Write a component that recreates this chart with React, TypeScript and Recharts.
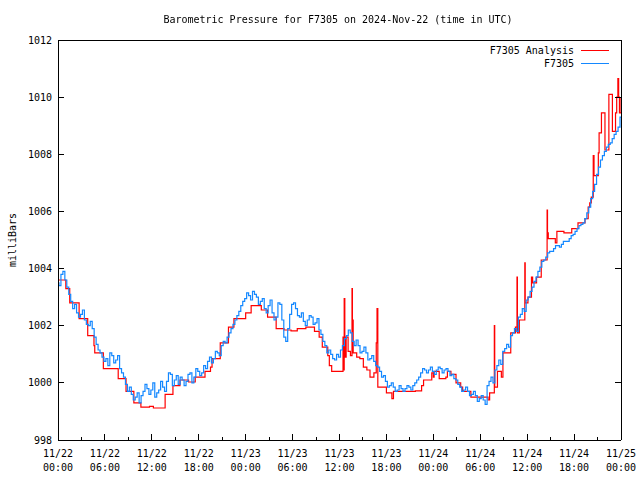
import { LineChart, Line, XAxis, YAxis } from 'recharts';

const FONT = '"DejaVu Sans Mono", "Liberation Mono", monospace';

// [hours after 2024-11-22 00:00 UTC, mb] - analysis changes in steps
const analysisReadings: [number, number][] = [
    [0, 1003.6], [1.0, 1003.3], [1.5, 1002.8], [2.7, 1002.25], [3.8, 1001.65],
    [4.6, 1001.3], [4.7, 1001.05], [5.8, 1000.5], [7.7, 1000.15], [8.7, 999.7],
    [9.7, 999.3], [10.6, 999.15], [11.7, 999.18], [12.2, 999.12], [13.7, 999.6],
    [14.7, 999.9], [15.6, 1000.1], [16.7, 1000.03], [17.55, 1000.2], [18.8, 1000.4],
    [19.5, 1000.55], [19.7, 1000.85], [20.75, 1001.4], [21.8, 1001.95], [22.5, 1002.25],
    [24.0, 1002.45], [24.7, 1002.7], [26.0, 1002.55], [26.8, 1002.3], [27.9, 1001.9],
    [28.9, 1001.85], [29.8, 1001.82], [30.6, 1001.9], [31.7, 1001.95], [32.8, 1001.8],
    [33.4, 1001.6], [33.8, 1001.25], [34.5, 1000.95], [34.7, 1000.6], [35.0, 1000.4],
    [36.45, 1001.6], [36.5, 1000.45], [36.6, 1002.95], [36.68, 1001.6], [36.75, 1000.9],
    [36.85, 1001.6], [37.1, 1001.1], [37.4, 1000.95], [37.6, 1003.3], [37.65, 1002.2],
    [37.75, 1001.05], [38.2, 1000.9], [38.6, 1000.85], [39.05, 1000.55], [39.5, 1000.45],
    [39.9, 1000.2], [40.4, 1000.35], [40.7, 1001.4], [40.8, 1002.6], [40.9, 999.85],
    [42.0, 999.65], [42.7, 999.45], [42.9, 999.7], [45.7, 999.72], [46.5, 999.9],
    [46.75, 1000.1], [47.8, 1000.35], [48.0, 1000.2], [48.1, 1000.4], [48.75, 1000.15],
    [49.6, 1000.2], [49.8, 1000.4], [50.25, 1000.3], [50.9, 1000.0], [51.5, 999.85],
    [51.75, 999.7], [52.8, 999.5], [55.0, 999.4], [55.2, 999.65], [55.8, 1002.0],
    [55.85, 999.85], [56.2, 1000.4], [56.7, 1000.2], [56.9, 1001.05], [57.9, 1001.75],
    [58.5, 1001.95], [58.7, 1003.7], [58.75, 1001.75], [59.0, 1002.2], [59.7, 1004.2],
    [59.75, 1002.8], [60.1, 1003.0], [60.55, 1003.7], [60.7, 1003.5], [61.2, 1003.7],
    [61.8, 1004.3], [62.55, 1006.05], [62.6, 1005.25], [62.7, 1005.05], [63.6, 1004.9],
    [63.8, 1005.3], [64.7, 1005.25], [65.7, 1005.4], [66.5, 1005.6], [67.4, 1005.75],
    [67.8, 1006.15], [68.0, 1006.3], [68.2, 1006.5], [68.45, 1007.95], [68.55, 1007.25],
    [69.1, 1008.05], [69.2, 1008.75], [69.5, 1009.45], [69.95, 1008.15], [70.45, 1010.1],
    [70.9, 1008.8], [71.3, 1009.45], [71.45, 1010.0], [71.6, 1010.65], [71.7, 1010.0],
    [71.8, 1009.45], [72.0, 1010.0],
];

// station readings on the half hour, from 11/22 00:00
const stationStepHours = 0.5;
const stationValues = [
    1003.5, 1003.8, 1003.6, 1003.1, 1002.6, 1002.45, 1002.4, 1002.2, 1002.0, 1001.9,
    1001.35, 1001.05, 1000.75, 1000.6, 1000.95, 1000.8, 1000.5, 1000.2, 999.7, 999.6,
    999.5, 999.3, 999.7, 999.8, 999.75, 999.5, 999.75, 999.85, 1000.05, 1000.3,
    1000.1, 999.95, 1000.1, 1000.05, 1000.35, 1000.2, 1000.4, 1000.35, 1000.5, 1000.9,
    1000.85, 1001.05, 1001.3, 1001.4, 1001.75, 1002.05, 1002.35, 1002.7, 1002.95, 1003.05,
    1003.2, 1003.0, 1002.85, 1002.6, 1002.7, 1002.45, 1002.3, 1002.75, 1001.6, 1001.9,
    1002.75, 1002.6, 1002.3, 1002.15, 1002.2, 1002.3, 1002.1, 1001.85, 1001.45, 1001.05,
    1001.0, 1000.8, 1000.9, 1001.3, 1001.65, 1001.75, 1001.3, 1001.3, 1001.1, 1001.05,
    1000.85, 1000.75, 1000.55, 1000.2, 1000.05, 999.9, 999.85, 999.75, 999.8, 999.8,
    999.85, 999.9, 1000.1, 1000.35, 1000.45, 1000.45, 1000.4, 1000.45, 1000.5, 1000.45,
    1000.4, 1000.3, 1000.1, 999.85, 999.75, 999.7, 999.6, 999.55, 999.45, 999.4,
    999.9, 1000.2, 1000.45, 1000.8, 1001.1, 1001.35, 1001.65, 1001.9, 1002.3, 1002.6,
    1002.9, 1003.2, 1003.55, 1003.9, 1004.25, 1004.4, 1004.6, 1004.7, 1004.8, 1004.85,
    1004.95, 1005.05, 1005.2, 1005.4, 1005.55, 1005.75, 1006.15, 1006.7, 1007.3, 1007.8,
    1008.1, 1008.35, 1008.55, 1008.8, 1009.3,
];

// station readings a quarter hour after each of the above
const stationQuarterValues = [
    1003.4, 1003.9, 1003.35, 1002.85, 1002.75, 1002.3, 1002.55, 1002.05, 1002.15, 1001.6,
    1001.15, 1000.9, 1000.85, 1001.05, 1000.7, 1000.95, 1000.35, 999.95, 999.85, 999.4,
    999.65, 999.55, 999.95, 999.6, 1000.0, 999.65, 1000.05, 999.7, 1000.35, 999.9,
    1000.25, 1000.2, 999.9, 1000.3, 1000.0, 1000.5, 1000.25, 1000.6, 1000.75, 1000.7,
    1001.1, 1000.95, 1001.45, 1001.6, 1001.9, 1002.2, 1002.5, 1002.85, 1003.15, 1002.9,
    1003.1, 1002.75, 1002.95, 1002.45, 1002.9, 1002.2, 1002.8, 1002.2, 1001.45, 1002.4,
    1002.8, 1002.35, 1002.45, 1002.0, 1002.35, 1002.05, 1002.25, 1001.7, 1001.3, 1001.15,
    1000.85, 1001.0, 1001.15, 1001.55, 1001.85, 1001.45, 1001.5, 1001.05, 1001.25, 1000.8,
    1000.95, 1000.6, 1000.4, 1000.25, 999.85, 1000.0, 999.7, 999.9, 999.7, 999.9,
    999.75, 1000.0, 1000.2, 1000.5, 1000.35, 1000.55, 1000.3, 1000.55, 1000.35, 1000.5,
    1000.25, 1000.15, 999.95, 999.7, 999.85, 999.55, 999.7, 999.35, 999.55, 999.25,
    1000.05, 1000.0, 1000.6, 1000.65, 1001.2, 1001.25, 1001.75, 1001.8, 1002.4, 1002.5,
    1003.0, 1003.35, 1003.7, 1004.05, 1004.3, 1004.55, 1004.6, 1004.8, 1004.75, 1004.95,
    1004.95, 1005.15, 1005.3, 1005.5, 1005.6, 1005.95, 1006.45, 1006.95, 1007.55, 1007.95,
    1008.25, 1008.4, 1008.7, 1008.95,
];

const pressureTicks = [998, 1000, 1002, 1004, 1006, 1008, 1010, 1012];
const timeTicks = [0, 3, 6, 9, 12, 15, 18, 21, 24, 27, 30, 33, 36, 39, 42, 45, 48, 51, 54, 57, 60, 63, 66, 69, 72];
const startDay = 22;

const analysisData = analysisReadings.map(([h, v]) => ({ h, v }));
const stationData = stationValues.flatMap((v, i) => {
    const h = i * stationStepHours;
    const rows = [{ h, v }];
    if (i < stationQuarterValues.length) rows.push({ h: h + stationStepHours / 2, v: stationQuarterValues[i] });
    return rows;
});

const PLOT_TOP = 40;
const PLOT_BOTTOM = 440;
const PLOT_LEFT = 58;
const PLOT_RIGHT = 621;

const pad = (n: number) => String(n).padStart(2, '0');

function BottomTick({ x, payload }: any) {
    const h = payload.value as number;
    const major = h % 6 === 0;
    const len = major ? 6 : 3;
    return (
        <g>
            <line x1={x} y1={PLOT_BOTTOM} x2={x} y2={PLOT_BOTTOM - len} stroke="#000" shapeRendering="crispEdges" />
            {major && (
                <text x={x} textAnchor="middle" fontFamily={FONT} fontSize={10} fill="#000">
                    <tspan x={x} y={457}>{`11/${startDay + Math.floor(h / 24)}`}</tspan>
                    <tspan x={x} y={471}>{`${pad(h % 24)}:00`}</tspan>
                </text>
            )}
        </g>
    );
}

function TopTick({ x, payload }: any) {
    const len = payload.value % 6 === 0 ? 6 : 3;
    return <line x1={x} y1={PLOT_TOP} x2={x} y2={PLOT_TOP + len} stroke="#000" shapeRendering="crispEdges" />;
}

function LeftTick({ y, payload }: any) {
    return (
        <g>
            <line x1={PLOT_LEFT} y1={y} x2={PLOT_LEFT + 6} y2={y} stroke="#000" shapeRendering="crispEdges" />
            <text x={52} y={y + 3.5} textAnchor="end" fontFamily={FONT} fontSize={10} fill="#000">
                {payload.value}
            </text>
        </g>
    );
}

function RightTick({ y }: any) {
    return <line x1={PLOT_RIGHT} y1={y} x2={PLOT_RIGHT - 6} y2={y} stroke="#000" shapeRendering="crispEdges" />;
}

const legendRow = (label: string, color: string, top: number) => (
    <div style={{ position: 'absolute', top, right: 31, display: 'flex', alignItems: 'center', height: 12 }}>
        <span style={{ marginRight: 7 }}>{label}</span>
        <svg width={28} height={4}>
            <line x1={0} y1={2} x2={28} y2={2} stroke={color} strokeWidth={1} shapeRendering="crispEdges" />
        </svg>
    </div>
);

export default function App() {
    return (
        <div
            style={{
                position: 'fixed',
                left: 0,
                top: 0,
                width: 640,
                height: 480,
                background: '#fff',
                fontFamily: FONT,
                fontSize: 10,
                color: '#000',
            }}
        >
            <LineChart width={640} height={480} margin={{ top: 39, right: 18, bottom: 0, left: 0 }}>
                <XAxis
                    xAxisId="bottom"
                    dataKey="h"
                    type="number"
                    domain={[0, 72]}
                    ticks={timeTicks}
                    interval={0}
                    height={40}
                    tickLine={false}
                    axisLine={{ stroke: '#000', shapeRendering: 'crispEdges' }}
                    tick={<BottomTick />}
                />
                <XAxis
                    xAxisId="top"
                    orientation="top"
                    dataKey="h"
                    type="number"
                    domain={[0, 72]}
                    ticks={timeTicks}
                    interval={0}
                    height={1}
                    tickLine={false}
                    axisLine={{ stroke: '#000', shapeRendering: 'crispEdges' }}
                    tick={<TopTick />}
                />
                <YAxis
                    yAxisId="left"
                    domain={[998, 1012]}
                    ticks={pressureTicks}
                    interval={0}
                    width={58}
                    tickLine={false}
                    axisLine={{ stroke: '#000', shapeRendering: 'crispEdges' }}
                    tick={<LeftTick />}
                    allowDataOverflow
                />
                <YAxis
                    yAxisId="right"
                    orientation="right"
                    domain={[998, 1012]}
                    ticks={pressureTicks}
                    interval={0}
                    width={1}
                    tickLine={false}
                    axisLine={{ stroke: '#000', shapeRendering: 'crispEdges' }}
                    tick={<RightTick />}
                    allowDataOverflow
                />
                <Line
                    data={analysisData}
                    xAxisId="bottom"
                    yAxisId="left"
                    dataKey="v"
                    type="stepAfter"
                    stroke="#ff0000"
                    strokeWidth={1.2}
                    dot={false}
                    isAnimationActive={false}
                />
                <Line
                    data={stationData}
                    xAxisId="bottom"
                    yAxisId="left"
                    dataKey="v"
                    type="step"
                    stroke="#1488ff"
                    strokeWidth={1.2}
                    dot={false}
                    isAnimationActive={false}
                />
            </LineChart>

            <div style={{ position: 'absolute', top: 14, left: 0, width: 676, textAlign: 'center' }}>
                Barometric Pressure for F7305 on 2024-Nov-22 (time in UTC)
            </div>
            <div
                style={{
                    position: 'absolute',
                    left: 12,
                    top: 240,
                    transform: 'translate(-50%, -50%) rotate(-90deg)',
                    whiteSpace: 'nowrap',
                }}
            >
                milliBars
            </div>
            {legendRow('F7305 Analysis', '#ff0000', 44)}
            {legendRow('F7305', '#1488ff', 57)}
        </div>
    );
}
